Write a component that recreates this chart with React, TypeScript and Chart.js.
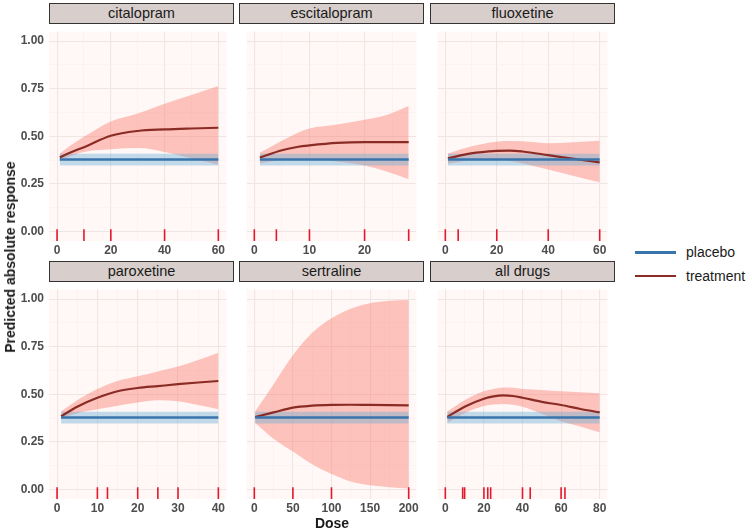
import React, { useEffect, useRef } from "react";
import { Chart, registerables } from "chart.js";
Chart.register(...registerables);

// ---------- data ----------
const placeboMean = 0.378;
const placeboLower = 0.346;
const placeboUpper = 0.408;

const yTickValues = [0, 0.25, 0.5, 0.75, 1];
const yTickLabels = ["0.00", "0.25", "0.50", "0.75", "1.00"];

const citalopramDose = [1, 5, 10, 20, 30, 40, 50, 60];
const citalopramMean = [0.39, 0.415, 0.443, 0.503, 0.528, 0.536, 0.541, 0.545];
const citalopramLower = [0.373, 0.395, 0.418, 0.432, 0.438, 0.418, 0.385, 0.351];
const citalopramUpper = [0.41, 0.452, 0.497, 0.578, 0.62, 0.671, 0.717, 0.764];
const citalopramRug = [0, 10, 20, 40, 60];
const citalopramTicks = [0, 20, 40, 60];

const escitalopramDose = [1, 5, 8, 10, 15, 20, 24, 28];
const escitalopramMean = [0.388, 0.427, 0.445, 0.452, 0.465, 0.469, 0.469, 0.469];
const escitalopramLower = [0.359, 0.376, 0.378, 0.379, 0.368, 0.346, 0.315, 0.275];
const escitalopramUpper = [0.413, 0.477, 0.52, 0.541, 0.562, 0.587, 0.612, 0.659];
const escitalopramRug = [0, 4, 10, 20, 28];
const escitalopramTicks = [0, 10, 20];

const fluoxetineDose = [1, 10, 20, 25, 30, 40, 50, 60];
const fluoxetineMean = [0.384, 0.41, 0.423, 0.425, 0.42, 0.401, 0.381, 0.363];
const fluoxetineLower = [0.356, 0.376, 0.381, 0.372, 0.359, 0.325, 0.292, 0.258];
const fluoxetineUpper = [0.41, 0.447, 0.472, 0.475, 0.474, 0.464, 0.469, 0.477];
const fluoxetineRug = [0, 5, 20, 40, 60];
const fluoxetineTicks = [0, 20, 40, 60];

const paroxetineDose = [1, 5, 10, 15, 20, 25, 30, 35, 40];
const paroxetineMean = [0.384, 0.435, 0.482, 0.516, 0.533, 0.543, 0.553, 0.562, 0.57];
const paroxetineLower = [0.373, 0.401, 0.422, 0.44, 0.457, 0.469, 0.464, 0.444, 0.422];
const paroxetineUpper = [0.41, 0.469, 0.528, 0.57, 0.595, 0.62, 0.646, 0.68, 0.718];
const paroxetineRug = [0, 10, 12.5, 20, 25, 30, 40];
const paroxetineTicks = [0, 10, 20, 30, 40];

const sertralineDose = [1, 25, 50, 75, 100, 125, 150, 175, 200];
const sertralineMean = [0.381, 0.405, 0.43, 0.44, 0.444, 0.445, 0.444, 0.443, 0.442];
const sertralineLower = [0.351, 0.266, 0.199, 0.132, 0.081, 0.042, 0.022, 0.012, 0.005];
const sertralineUpper = [0.41, 0.553, 0.705, 0.823, 0.9, 0.95, 0.978, 0.991, 0.995];
const sertralineRug = [0, 50, 100, 200];
const sertralineTicks = [0, 50, 100, 150, 200];

const allDrugsDose = [1, 10, 20, 25, 30, 35, 40, 50, 60, 70, 80];
const allDrugsMean = [0.381, 0.435, 0.477, 0.489, 0.494, 0.491, 0.482, 0.46, 0.444, 0.423, 0.405];
const allDrugsLower = [0.351, 0.401, 0.438, 0.446, 0.449, 0.445, 0.435, 0.398, 0.359, 0.331, 0.3];
const allDrugsUpper = [0.41, 0.469, 0.516, 0.528, 0.536, 0.535, 0.528, 0.523, 0.516, 0.511, 0.506];
const allDrugsRug = [0, 9, 10, 20, 22, 23.5, 40, 44, 60, 62];
const allDrugsTicks = [0, 20, 40, 60, 80];

const panelNames = ["citalopram", "escitalopram", "fluoxetine", "paroxetine", "sertraline", "all drugs"];

const panels = [
  { name: panelNames[0], dose: citalopramDose, mean: citalopramMean, lower: citalopramLower, upper: citalopramUpper, rug: citalopramRug, ticks: citalopramTicks, xMax: 60 },
  { name: panelNames[1], dose: escitalopramDose, mean: escitalopramMean, lower: escitalopramLower, upper: escitalopramUpper, rug: escitalopramRug, ticks: escitalopramTicks, xMax: 28 },
  { name: panelNames[2], dose: fluoxetineDose, mean: fluoxetineMean, lower: fluoxetineLower, upper: fluoxetineUpper, rug: fluoxetineRug, ticks: fluoxetineTicks, xMax: 60 },
  { name: panelNames[3], dose: paroxetineDose, mean: paroxetineMean, lower: paroxetineLower, upper: paroxetineUpper, rug: paroxetineRug, ticks: paroxetineTicks, xMax: 40 },
  { name: panelNames[4], dose: sertralineDose, mean: sertralineMean, lower: sertralineLower, upper: sertralineUpper, rug: sertralineRug, ticks: sertralineTicks, xMax: 200 },
  { name: panelNames[5], dose: allDrugsDose, mean: allDrugsMean, lower: allDrugsLower, upper: allDrugsUpper, rug: allDrugsRug, ticks: allDrugsTicks, xMax: 80 },
];

// ---------- style ----------
const FONT = "'Liberation Sans', Arial, Helvetica, sans-serif";
const PANEL_BG = "#FFF8F7";
const GRID_MAJOR = "#EFE6E4";
const GRID_MINOR = "#F7F0EF";
const TREAT_LINE = "#8A2C25";
const TREAT_FILL = "rgba(250,128,114,0.45)";
const PLAC_LINE = "#3A74AC";
const PLAC_FILL = "rgba(107,174,214,0.42)";
const RUG_COL = "#E3182D";
const TICK_COL = "#4D4D4D";

const COL_LEFT = [49, 239, 430];
const ROW_TOP = [24, 282];
const PANEL_W = 185;
const PANEL_H = 217;
const Y_AXIS_W = 49;
const X_AXIS_H = 20;

const bgPlugin = {
  id: "panelBg",
  beforeDraw(chart: any) {
    const { ctx, chartArea } = chart;
    ctx.save();
    ctx.fillStyle = PANEL_BG;
    ctx.fillRect(chartArea.left, chartArea.top, chartArea.right - chartArea.left, chartArea.bottom - chartArea.top);
    ctx.restore();
  },
};

const isMult = (v: number, step: number) => Math.abs(v / step - Math.round(v / step)) < 1e-6;

function Panel({ p, idx }: { p: any; idx: number }) {
  const ref = useRef<HTMLCanvasElement>(null);
  const col = idx % 3;
  const row = Math.floor(idx / 3);
  const left = col === 0 ? 0 : COL_LEFT[col];
  const yW = col === 0 ? Y_AXIS_W : 0;
  const width = PANEL_W + yW;
  const height = PANEL_H + X_AXIS_H;
  const top = ROW_TOP[row];

  useEffect(() => {
    const xMin = -0.05 * p.xMax;
    const xMax = 1.05 * p.xMax;
    const majorStep = p.ticks[1] - p.ticks[0];
    const xGrid: number[] = [];
    for (let v = -majorStep / 2; v <= xMax + 1e-9; v += majorStep / 2) {
      if (v >= xMin - 1e-9) xGrid.push(v);
    }
    const yGrid: number[] = [];
    for (let v = 0; v <= 1.0001; v += 0.125) yGrid.push(v);
    const pts = (xs: number[], ys: number[]) => xs.map((x, i) => ({ x, y: ys[i] }));
    const x0 = p.dose[0];
    const x1 = p.dose[p.dose.length - 1];
    const rugY = -0.05 + 6 / (PANEL_H / 1.1);

    const chart = new Chart(ref.current as HTMLCanvasElement, {
      type: "line",
      data: {
        datasets: [
          { label: "treatment lower", data: pts(p.dose, p.lower), borderWidth: 0, pointRadius: 0, fill: false, order: 10, cubicInterpolationMode: "monotone" },
          { label: "treatment upper", data: pts(p.dose, p.upper), borderWidth: 0, pointRadius: 0, fill: 0, backgroundColor: TREAT_FILL, order: 10, cubicInterpolationMode: "monotone" },
          { label: "placebo lower", data: [{ x: x0, y: placeboLower }, { x: x1, y: placeboLower }], borderWidth: 0, pointRadius: 0, fill: false, order: 8 },
          { label: "placebo upper", data: [{ x: x0, y: placeboUpper }, { x: x1, y: placeboUpper }], borderWidth: 0, pointRadius: 0, fill: 2, backgroundColor: PLAC_FILL, order: 8 },
          { label: "treatment", data: pts(p.dose, p.mean), borderColor: TREAT_LINE, borderWidth: 2.2, pointRadius: 0, fill: false, order: 2, cubicInterpolationMode: "monotone" },
          { label: "placebo", data: [{ x: x0, y: placeboMean }, { x: x1, y: placeboMean }], borderColor: PLAC_LINE, borderWidth: 2.6, pointRadius: 0, fill: false, order: 1 },
          {
            label: "rug",
            data: p.rug.map((x: number) => ({ x, y: rugY })),
            showLine: false,
            pointStyle: "line",
            pointRadius: 6,
            pointRotation: 90,
            borderColor: RUG_COL,
            pointBorderColor: RUG_COL,
            pointBorderWidth: 1.6,
            borderWidth: 1.6,
            order: 0,
          },
        ] as any,
      },
      options: {
        responsive: false,
        animation: false,
        events: [],
        layout: { padding: 0 },
        plugins: { legend: { display: false }, tooltip: { enabled: false } },
        scales: {
          x: {
            type: "linear",
            min: xMin,
            max: xMax,
            border: { display: false },
            afterBuildTicks: (s: any) => {
              s.ticks = xGrid.map((v) => ({ value: v }));
            },
            afterFit: (s: any) => {
              s.height = X_AXIS_H;
              s.paddingLeft = 0;
              s.paddingRight = 0;
            },
            grid: {
              drawTicks: false,
              color: (c: any) => (c.tick && isMult(c.tick.value, majorStep) ? GRID_MAJOR : GRID_MINOR),
              lineWidth: (c: any) => (c.tick && isMult(c.tick.value, majorStep) ? 1.1 : 0.6),
            },
            ticks: {
              padding: 2,
              maxRotation: 0,
              autoSkip: false,
              color: TICK_COL,
              font: { family: FONT, size: 12, weight: "bold" },
              callback: (v: any) => {
                const n = Number(v);
                return p.ticks.some((t: number) => Math.abs(t - n) < 1e-6) ? String(n) : "";
              },
            },
          },
          y: {
            type: "linear",
            min: -0.05,
            max: 1.05,
            border: { display: false },
            afterBuildTicks: (s: any) => {
              s.ticks = yGrid.map((v) => ({ value: v }));
            },
            afterFit: (s: any) => {
              s.width = yW;
              s.paddingTop = 0;
              s.paddingBottom = 0;
            },
            grid: {
              drawTicks: false,
              color: (c: any) => (c.tick && isMult(c.tick.value, 0.25) ? GRID_MAJOR : GRID_MINOR),
              lineWidth: (c: any) => (c.tick && isMult(c.tick.value, 0.25) ? 1.1 : 0.6),
            },
            ticks: {
              display: col === 0,
              padding: 5,
              color: TICK_COL,
              font: { family: FONT, size: 12, weight: "bold" },
              callback: (v: any) => {
                const n = Number(v);
                const i = yTickValues.findIndex((t) => Math.abs(t - n) < 1e-6);
                return i >= 0 ? yTickLabels[i] : "";
              },
            },
          },
        },
      } as any,
      plugins: [bgPlugin],
    });
    return () => chart.destroy();
  }, []);

  return (
    <>
      <div
        style={{
          position: "absolute",
          left: COL_LEFT[col],
          top: top - 21,
          width: PANEL_W,
          height: 21,
          boxSizing: "border-box",
          background: "#D8CECB",
          border: "1px solid #333333",
          fontFamily: FONT,
          fontSize: 14.5,
          color: "#1A1A1A",
          textAlign: "center",
          lineHeight: "19px",
        }}
      >
        {p.name}
      </div>
      <canvas
        ref={ref}
        width={width}
        height={height}
        style={{ position: "absolute", left, top, width, height }}
      />
    </>
  );
}

export default function App() {
  return (
    <div style={{ position: "absolute", left: 0, top: 0, width: 752, height: 531, background: "#FFFFFF", overflow: "hidden", fontFamily: FONT }}>
      {panels.map((p, i) => (
        <Panel key={p.name} p={p} idx={i} />
      ))}
      <div
        style={{
          position: "absolute",
          left: 10,
          top: 257,
          transform: "translate(-50%, -50%) rotate(-90deg)",
          whiteSpace: "nowrap",
          fontWeight: "bold",
          fontSize: 14,
          color: "#1A1A1A",
        }}
      >
        Predicted absolute response
      </div>
      <div
        style={{
          position: "absolute",
          left: 332,
          top: 523,
          transform: "translate(-50%, -50%)",
          whiteSpace: "nowrap",
          fontWeight: "bold",
          fontSize: 14,
          color: "#1A1A1A",
        }}
      >
        Dose
      </div>
      {[
        { label: "placebo", color: PLAC_LINE, w: 3, y: 252 },
        { label: "treatment", color: TREAT_LINE, w: 2.5, y: 276 },
      ].map((it) => (
        <React.Fragment key={it.label}>
          <div style={{ position: "absolute", left: 635, top: it.y - it.w / 2, width: 41, height: it.w, background: it.color }} />
          <div style={{ position: "absolute", left: 686, top: it.y - 9, height: 18, lineHeight: "18px", fontSize: 14, color: "#1A1A1A", whiteSpace: "nowrap" }}>
            {it.label}
          </div>
        </React.Fragment>
      ))}
    </div>
  );
}
